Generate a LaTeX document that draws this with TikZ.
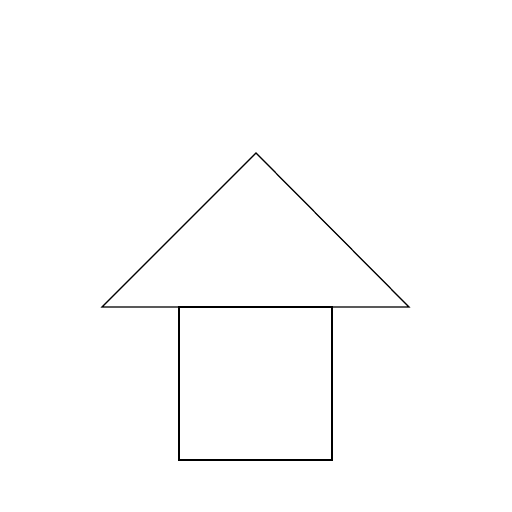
\documentclass[tikz,border=0pt]{standalone}
\begin{document}
\begin{tikzpicture}[x=0.01cm, y=0.01cm, line width=0.35pt]
                    \useasboundingbox (0,0) rectangle (512,512);
                    \coordinate (roofleft) at (102,205);
                    \coordinate (roofright) at (409,205);
                    \coordinate (roofpeak) at (256,359);
                    
                    \coordinate (wallbottom) at (179,52);
                    \coordinate (walltop) at (332,205);
                    
                    \draw (roofleft) -- (roofright) -- (roofpeak) -- cycle;
                    \draw (wallbottom) rectangle (walltop);
                \end{tikzpicture}
\end{document}
